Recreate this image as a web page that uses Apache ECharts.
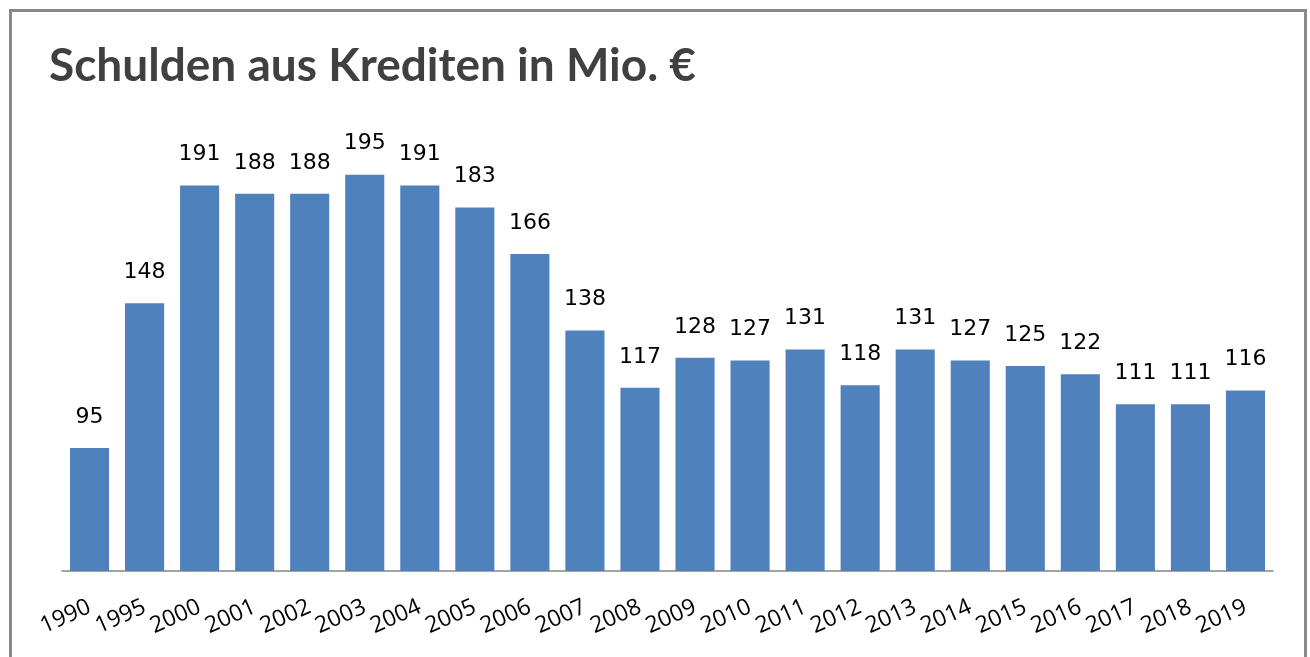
<!DOCTYPE html>
<html>
<head>
<meta charset="utf-8">
<script src="https://cdn.jsdelivr.net/npm/echarts@6/dist/echarts.min.js"></script>
<style>
  html, body { margin: 0; padding: 0; background: #fff; }
  #chart { width: 1310px; height: 657px; }
</style>
</head>
<body>
<div id="chart"></div>
<script>
// years and debt values (Mio. EUR)
var years = ['1990', '1995', '2000', '2001', '2002', '2003', '2004', '2005', '2006', '2007', '2008',
  '2009', '2010', '2011', '2012', '2013', '2014', '2015', '2016', '2017', '2018', '2019'];
var debts = [95, 148, 191, 188, 188, 195, 191, 183, 166, 138, 117,
  128, 127, 131, 118, 131, 127, 125, 122, 111, 111, 116];

var chart = echarts.init(document.getElementById('chart'));
chart.setOption({
  animation: false,
  backgroundColor: '#fff',
  title: {
    text: 'Schulden aus Krediten in Mio. €',
    left: 44,
    top: 38,
    textStyle: {
      fontFamily: 'Lato',
      fontWeight: 'bold',
      fontSize: 46,
      color: '#404040'
    }
  },
  graphic: [{
    type: 'rect',
    shape: { x: 10.5, y: 10.5, width: 1295, height: 680 },
    style: { fill: 'none', stroke: '#888888', lineWidth: 3 },
    silent: true
  }],
  grid: { left: 62, right: 37, top: 161, bottom: 86 },
  xAxis: {
    type: 'category',
    data: years,
    axisLine: { lineStyle: { color: '#868686', width: 1.5 } },
    axisTick: { show: false },
    axisLabel: {
      rotate: 24,
      margin: 35,
      color: '#000',
      fontFamily: 'Open Sans',
      fontSize: 23,
      interval: 0
    }
  },
  yAxis: {
    type: 'value',
    min: 50,
    max: 200,
    show: false,
    splitLine: { show: false }
  },
  series: [{
    type: 'bar',
    data: debts,
    barCategoryGap: '29%',
    itemStyle: { color: '#4F81BD' },
    label: {
      show: true,
      position: 'top',
      distance: 20,
      color: '#000',
      fontFamily: 'DejaVu Sans',
      fontSize: 22
    }
  }]
});
</script>
</body>
</html>
